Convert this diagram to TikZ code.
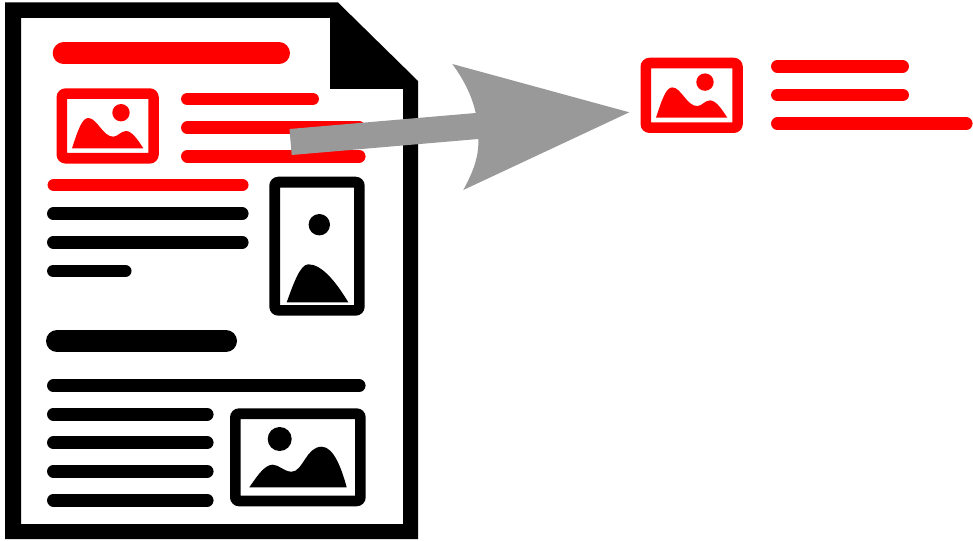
\documentclass[tikz,border=0pt]{standalone}
\definecolor{docred}{RGB}{255,0,0}
\definecolor{arrowgray}{RGB}{153,153,153}
\tikzset{
  thinbar/.style={line width=12.7pt,line cap=round},
  thickbar/.style={line width=22pt,line cap=round},
  frame/.style={even odd rule,rounded corners=0pt},
}
% outer x1,y1,x2,y2; inner x1,y1,x2,y2
\newcommand{\iconframe}[9]{%
  \fill[#1,even odd rule]
    [rounded corners=9pt] (#2,#3) rectangle (#4,#5)
    [rounded corners=0pt] (#6,#7) rectangle (#8,#9);}
\newcommand{\redicon}{%
  \iconframe{docred}{56.5}{88.3}{158.8}{163.6}{67}{99}{148.3}{153}
  \fill[docred] (72,148.3) .. controls (78,130) and (82,118) .. (88.3,118)
    .. controls (97,118) and (103,136.9) .. (113.3,136.7)
    .. controls (118,136.5) and (121,131) .. (126,131)
    .. controls (132,131) and (138,140) .. (143.3,148.3) -- cycle;
  \fill[docred] (121,112.7) circle (8.7);}
\begin{document}
\begin{tikzpicture}[x=1pt,y=-1pt]
\useasboundingbox (0,0) rectangle (973,540);
% page
\fill[black,even odd rule]
  (5,2.5) -- (338,2.5) -- (418,81) -- (418,539) -- (5,539) -- cycle
  (21,18) -- (330,18) -- (330,89) -- (403,89) -- (403,524) -- (21,524) -- cycle;
% red content in the page
\draw[docred,thickbar] (63.7,53.3) -- (279,53.3);
\redicon
\draw[docred,thinbar] (187.4,99) -- (312.6,99);
\draw[docred,thinbar] (187.4,127.7) -- (359.2,127.7);
\draw[docred,thinbar] (187.4,156.3) -- (359.2,156.3);
\draw[docred,thinbar] (53.9,185) -- (242.2,185);
% black text lines
\draw[black,thinbar] (53.4,213.7) -- (242.2,213.7);
\draw[black,thinbar] (53.4,242.3) -- (242.2,242.3);
\draw[black,thinbar] (53.4,271) -- (125.2,271);
\draw[black,thickbar] (57,341) -- (226,341);
\draw[black,thinbar] (53.4,385.7) -- (359.2,385.7);
\draw[black,thinbar] (53.4,414.3) -- (207.2,414.3);
\draw[black,thinbar] (53.4,442.7) -- (207.2,442.7);
\draw[black,thinbar] (53.4,471.3) -- (207.2,471.3);
\draw[black,thinbar] (53.4,500.3) -- (207.2,500.3);
% portrait picture
\iconframe{black}{269.3}{176.7}{364.7}{315.7}{280}{187.7}{354}{305}
\fill[black] (319.3,224.7) circle (10.7);
\fill[black] (286.7,302.3) .. controls (293,285) and (300,264.3) .. (308.3,264.3)
  .. controls (322,264.3) and (336,282) .. (348.3,302.3) -- cycle;
% landscape picture
\iconframe{black}{230}{408.3}{365.7}{506.3}{240.7}{419}{355}{495.7}
\fill[black] (279.7,439) circle (12);
\fill[black] (249.3,487.3) .. controls (256,478) and (264,464.7) .. (272.7,464.7)
  .. controls (279,464.7) and (284,471.7) .. (291.7,471.7)
  .. controls (303,471.7) and (306,446.7) .. (321.7,446.7)
  .. controls (334,446.7) and (342,470) .. (346.7,487.3) -- cycle;
% extracted block
\begin{scope}[shift={(584,-30.6)}]
\redicon
\end{scope}
\draw[docred,thinbar] (777.4,66.3) -- (902.6,66.3);
\draw[docred,thinbar] (777.4,95) -- (902.6,95);
\draw[docred,thinbar] (777.4,123.7) -- (966.2,123.7);
% arrow
\fill[arrowgray] (289.5,129) -- (475.7,113)
  .. controls (472,96) and (464,80) .. (452.3,64)
  -- (629.3,112.3) -- (463.3,190)
  .. controls (473,172) and (479,157) .. (478.3,139)
  -- (291.7,155) -- cycle;
\end{tikzpicture}
\end{document}
